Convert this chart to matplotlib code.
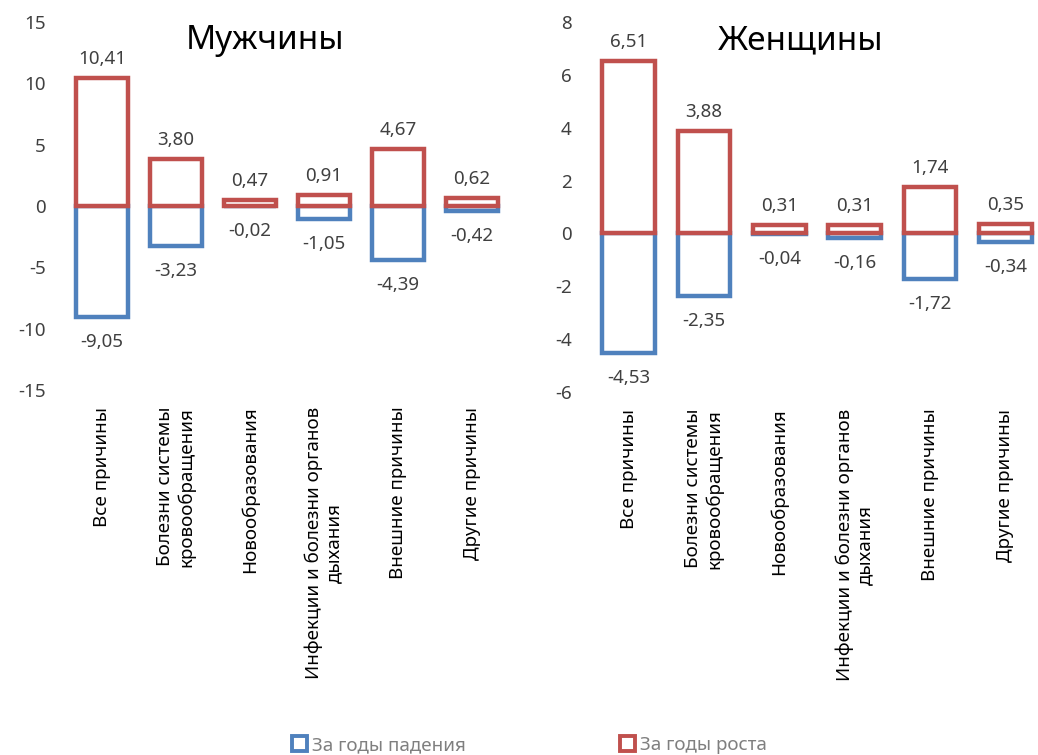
import matplotlib.pyplot as plt
from matplotlib.patches import Patch

plt.rcParams["font.family"] = ["Noto Sans", "DejaVu Sans"]

CATEGORIES = [
    "Все причины",
    "Болезни системы\nкровообращения",
    "Новообразования",
    "Инфекции и болезни органов\nдыхания",
    "Внешние причины",
    "Другие причины",
]

MEN_FALL = [-9.05, -3.23, -0.02, -1.05, -4.39, -0.42]
MEN_RISE = [10.41, 3.80, 0.47, 0.91, 4.67, 0.62]
WOMEN_FALL = [-4.53, -2.35, -0.04, -0.16, -1.72, -0.34]
WOMEN_RISE = [6.51, 3.88, 0.31, 0.31, 1.74, 0.35]

BLUE = "#4f81bd"
RED = "#c0504d"
TEXT = "#404040"
LEGEND_TEXT = "#7f7f7f"


def fmt(v):
    return f"{v:.2f}".replace(".", ",")


def draw_panel(ax, fall, rise, title, title_x, ylim, yticks):
    x = range(len(CATEGORIES))
    ax.bar(x, fall, width=0.7, facecolor="white", edgecolor=BLUE, linewidth=3.2)
    ax.bar(x, rise, width=0.7, facecolor="white", edgecolor=RED, linewidth=3.2)

    for i, (f, r) in enumerate(zip(fall, rise)):
        ax.annotate(fmt(r), (i, r), xytext=(0, 10), textcoords="offset pixels",
                    ha="center", va="bottom", fontsize=13.5, color=TEXT)
        ax.annotate(fmt(f), (i, f), xytext=(0, -16), textcoords="offset pixels",
                    ha="center", va="top", fontsize=13.5, color=TEXT)

    ax.set_xlim(-0.5, len(CATEGORIES) - 0.5)
    ax.set_ylim(*ylim)
    ax.set_yticks(yticks)
    ax.set_yticklabels([str(t) for t in yticks], fontsize=13.5, color=TEXT)
    ax.set_xticks(list(x))
    ax.set_xticklabels(CATEGORIES, rotation=90, fontsize=13.5, color="black",
                       ha="center", va="top", multialignment="center")
    ax.tick_params(axis="both", length=0)
    ax.tick_params(axis="x", pad=12)
    ax.tick_params(axis="y", pad=14)
    for spine in ax.spines.values():
        spine.set_visible(False)
    ax.text(title_x, 0.95, title, transform=ax.transAxes, ha="center", va="center",
            fontsize=24, color="black")


fig = plt.figure(figsize=(10.38, 7.55), dpi=100)
ax1 = fig.add_axes([65 / 1038, 1 - 390 / 755, 444 / 1038, 368 / 755])
ax2 = fig.add_axes([591 / 1038, 1 - 392 / 755, 452 / 1038, 370 / 755])

draw_panel(ax1, MEN_FALL, MEN_RISE, "Мужчины", 0.45, (-15, 15), list(range(-15, 16, 5)))
draw_panel(ax2, WOMEN_FALL, WOMEN_RISE, "Женщины", 0.465, (-6, 8), list(range(-6, 9, 2)))

handles = [
    Patch(facecolor="white", edgecolor=BLUE, linewidth=2.8, label="За годы падения"),
    Patch(facecolor="white", edgecolor=RED, linewidth=2.8, label="За годы роста"),
]
leg = fig.legend(handles=handles, loc="center", bbox_to_anchor=(0.51, 0.013),
                 ncol=2, frameon=False, fontsize=13.5, columnspacing=8.2,
                 handlelength=0.8, handleheight=0.8, handletextpad=0.3)
for t in leg.get_texts():
    t.set_color(LEGEND_TEXT)

fig.savefig("out.png", dpi=100)
